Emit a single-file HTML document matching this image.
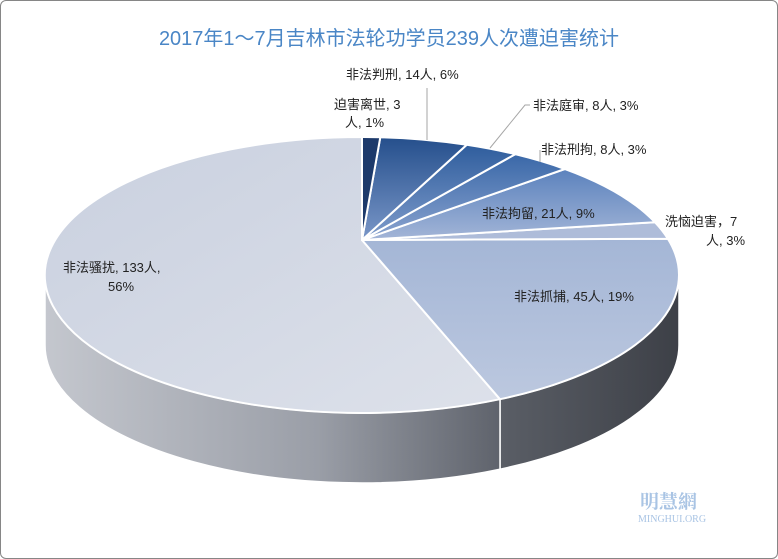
<!DOCTYPE html>
<html><head><meta charset="utf-8"><style>
html,body{margin:0;padding:0;background:#fff;}
body{width:778px;height:559px;overflow:hidden;position:relative;font-family:"Liberation Sans","Noto Sans CJK SC",sans-serif;}
.frame{position:absolute;left:0;top:0;width:776px;height:557px;border:1px solid #868686;border-radius:6px;}
.t{position:absolute;font-size:13px;color:#222;white-space:nowrap;line-height:17px;}
</style></head><body>
<div class="frame"></div>
<div style="position:absolute;left:0;width:778px;top:22px;text-align:center;font-size:20px;color:#4a86c6;">2017年1～7月吉林市法轮功学员239人次遭迫害统计</div>
<svg width="778" height="559" style="position:absolute;left:0;top:0">
<defs>
<linearGradient id="sl" x1="0" x2="1" y1="0" y2="0"><stop offset="0" stop-color="#c4c7ce"/><stop offset="0.6" stop-color="#9a9ea7"/><stop offset="1" stop-color="#5f636c"/></linearGradient>
<linearGradient id="sr" x1="0" x2="1"><stop offset="0" stop-color="#5a5e66"/><stop offset="1" stop-color="#3d4047"/></linearGradient>
<linearGradient id="g8" x1="0" x2="1" y1="0" y2="1"><stop offset="0" stop-color="#c9d0df"/><stop offset="1" stop-color="#dde1ea"/></linearGradient>
<linearGradient id="g7" x1="0" x2="0" y1="0" y2="1"><stop offset="0" stop-color="#a4b6d6"/><stop offset="1" stop-color="#bcc8df"/></linearGradient>
<linearGradient id="g5" x1="0" x2="0" y1="0" y2="1"><stop offset="0" stop-color="#5b82bd"/><stop offset="1" stop-color="#a3b5d7"/></linearGradient>
<linearGradient id="g4" x1="0" x2="0" y1="0" y2="1"><stop offset="0" stop-color="#3a68a8"/><stop offset="1" stop-color="#8aa3cf"/></linearGradient>
<linearGradient id="g3" x1="0" x2="0" y1="0" y2="1"><stop offset="0" stop-color="#2f5d9d"/><stop offset="1" stop-color="#7f9ccb"/></linearGradient>
<linearGradient id="g2" x1="0" x2="0" y1="0" y2="1"><stop offset="0" stop-color="#254f8c"/><stop offset="1" stop-color="#7a97c8"/></linearGradient>
</defs>
<!-- side -->
<path d="M679,275 L679,345 A317,138 0 0,1 500,469.2 L500,399.2 A317,138 0 0,0 679,275Z" fill="url(#sr)" stroke="#fff" stroke-width="1.5"/>
<path d="M500,399.2 L500,469.2 A317,138 0 0,1 45,345 L45,275 A317,138 0 0,0 500,399.2Z" fill="url(#sl)" stroke="#fff" stroke-width="1.5"/>
<g stroke="#fff" stroke-width="2" stroke-linejoin="round">
<path d="M362,240 L500,399.2 A317,138 0 1,1 362,137Z" fill="url(#g8)"/>
<path d="M362,240 L667.9,238.8 A317,138 0 0,1 500,399.2Z" fill="url(#g7)"/>
<path d="M362,240 L654.9,222.2 A317,138 0 0,1 667.9,238.8Z" fill="#aebcd9"/>
<path d="M362,240 L564.9,169 A317,138 0 0,1 654.9,222.2Z" fill="url(#g5)"/>
<path d="M362,240 L515.2,154.2 A317,138 0 0,1 564.9,169Z" fill="url(#g4)"/>
<path d="M362,240 L466.8,144.8 A317,138 0 0,1 515.2,154.2Z" fill="url(#g3)"/>
<path d="M362,240 L380.3,137.2 A317,138 0 0,1 466.8,144.8Z" fill="url(#g2)"/>
<path d="M362,240 L362,137 A317,138 0 0,1 380.3,137.2Z" fill="#1d3a6b"/>
</g>
<g stroke="#a6a6a6" fill="none" stroke-width="1">
<polyline points="427,140 427,88"/>
<polyline points="490,148 525,105 530,105"/>
<polyline points="540,162 540,150"/>
</g>
<text x="640" y="508" font-size="19" font-weight="bold" fill="#a9c4e4" font-family="Liberation Serif,Noto Serif CJK SC,serif">明慧網</text>
<text x="638" y="522" font-size="10" fill="#a9c4e4" font-family="Liberation Serif,serif">MINGHUI.ORG</text>
</svg>
<div class="t" style="left:346px;top:66px">非法判刑, 14人, 6%</div>
<div class="t" style="left:334px;top:96px">迫害离世, 3</div>
<div class="t" style="left:345px;top:114px">人, 1%</div>
<div class="t" style="left:533px;top:97px">非法庭审, 8人, 3%</div>
<div class="t" style="left:541px;top:141px">非法刑拘, 8人, 3%</div>
<div class="t" style="left:482px;top:205px">非法拘留, 21人, 9%</div>
<div class="t" style="left:665px;top:213px">洗恼迫害，7</div>
<div class="t" style="left:706px;top:232px">人, 3%</div>
<div class="t" style="left:514px;top:288px">非法抓捕, 45人, 19%</div>
<div class="t" style="left:63px;top:259px">非法骚扰, 133人,</div>
<div class="t" style="left:108px;top:278px">56%</div>
</body></html>
